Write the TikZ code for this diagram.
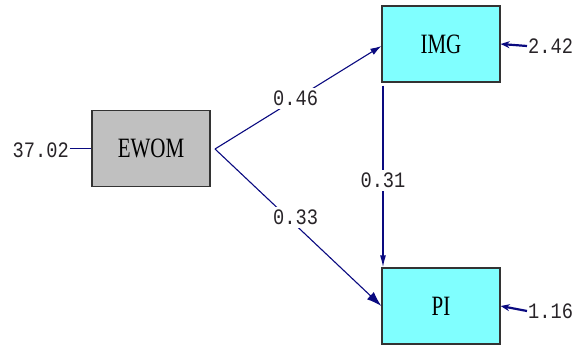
\documentclass[tikz,border=0pt]{standalone}
\usepackage{fontspec}
\usetikzlibrary{arrows.meta}
\newfontfamily\numfont[FakeStretch=0.85]{Liberation Mono}
\newfontfamily\varfont[FakeStretch=0.75]{Liberation Serif}
\definecolor{pathblue}{RGB}{10,10,128}
\definecolor{latentcyan}{RGB}{128,255,255}
\definecolor{obsgray}{RGB}{192,192,192}
\definecolor{numink}{RGB}{40,36,40}
\tikzset{
  varbox/.style={draw=black!80, line width=1.3pt, minimum width=118pt, minimum height=76pt,
    inner sep=0pt, font=\varfont\fontsize{28}{28}\selectfont},
  numlbl/.style={font=\numfont\fontsize{22}{22}\selectfont, text=numink, inner sep=1pt},
  coeflbl/.style={numlbl, fill=white, inner xsep=2pt, inner ysep=3pt},
  pathline/.style={draw=pathblue, line width=1.1pt},
  errarrow/.style={pathblue, line width=2.2pt, -{Stealth[length=9pt,width=7pt]}},
}
\begin{document}
\begin{tikzpicture}[x=1pt,y=-1pt]
\useasboundingbox (0,0) rectangle (579,347);

% variables
\node[varbox, fill=obsgray]     (ewom) at (151,148.5) {EWOM};
\node[varbox, fill=latentcyan]  (img)  at (441,44)    {IMG};
\node[varbox, fill=latentcyan]  (pi)   at (441,306)   {PI};

% exogenous variance and error variances
\node[numlbl, anchor=east] (vewom) at (70,150) {37.02};
\node[numlbl, anchor=west] (eimg)  at (527,46) {2.42};
\node[numlbl, anchor=west] (epi)   at (527,311) {1.16};

\coordinate (out) at (215,149);

% structural paths
\draw[pathline] (vewom.east |- ewom.west) -- (ewom.west);
\draw[pathline, -{Latex[length=11pt,width=7pt]}] (out) -- (img.west |- 0,46)
  node[coeflbl, pos=0.485, yshift=1pt] {0.46};
\draw[pathline, -{Latex[length=15pt,width=10pt]}] (out) -- (pi.west)
  node[coeflbl, pos=0.485, yshift=8pt] {0.33};
\draw[pathline, line width=1.4pt, -{Latex[length=12pt,width=6pt]}] ([xshift=-58pt,yshift=-3pt]img.south) -- ([xshift=-58pt]pi.north)
  node[coeflbl, pos=0.52] {0.31};

% error arrows
\draw[errarrow] (eimg.west) -- (img.east);
\draw[errarrow] (epi.west) -- (pi.east);
\end{tikzpicture}
\end{document}
